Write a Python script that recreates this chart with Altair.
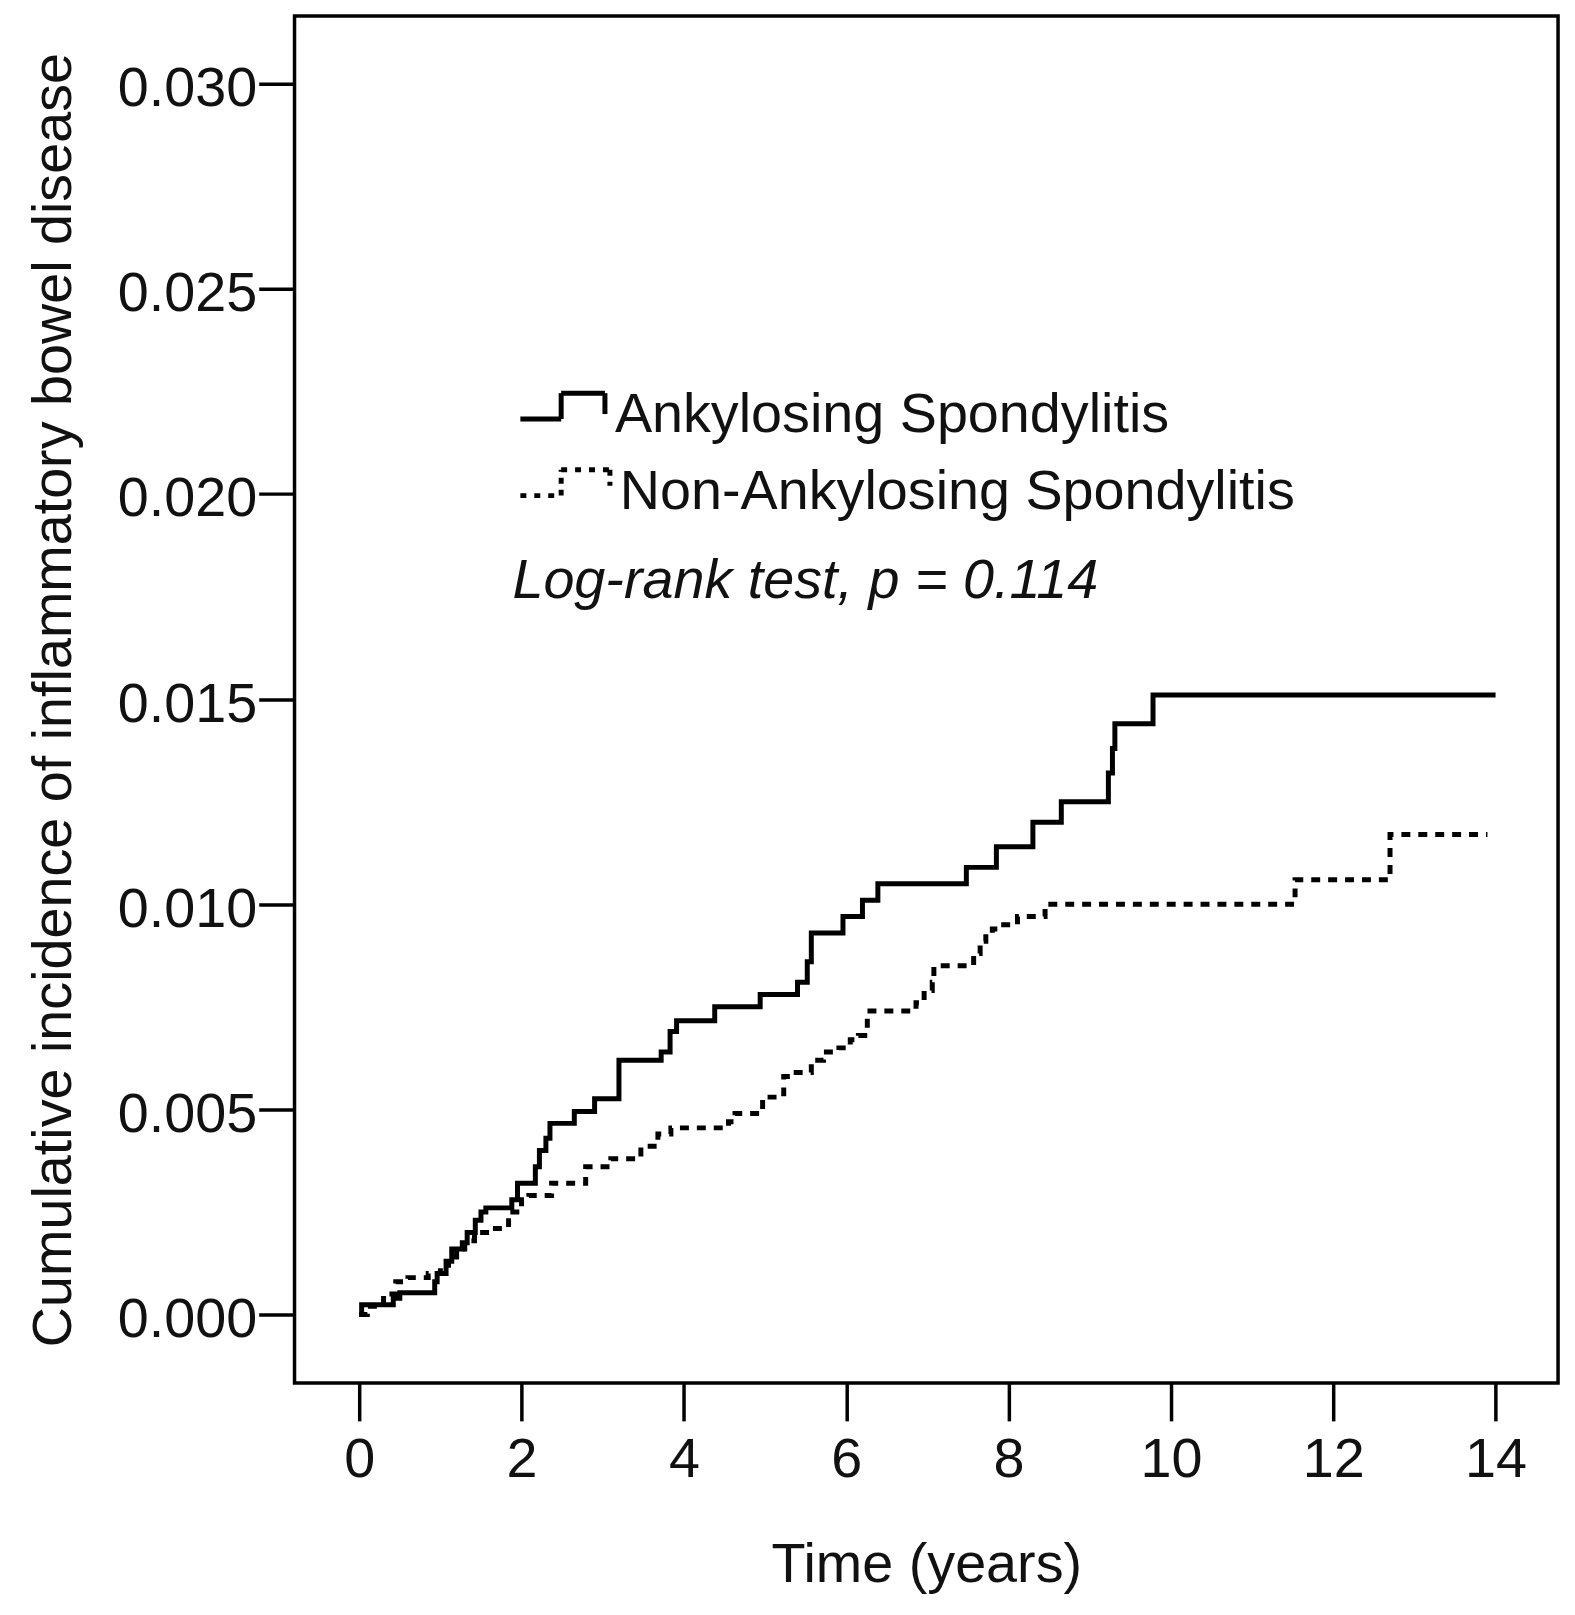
import altair as alt
import pandas as pd

# Ankylosing Spondylitis (solid) - step points: time (years), cumulative incidence
as_time = [0.0, 0.03, 0.42, 0.50, 0.93, 0.96, 1.07, 1.14, 1.27, 1.33, 1.43, 1.50, 1.56,
           1.88, 1.95, 2.17, 2.22, 2.30, 2.35, 2.65, 2.90, 3.20, 3.72, 3.83, 3.91, 4.38,
           4.94, 5.40, 5.52, 5.57, 5.96, 6.20, 6.39, 7.48, 7.85, 8.30, 8.65, 9.23,
           9.28, 9.31, 9.78, 14.0]
as_inc = [0.0000, 0.00024, 0.0004, 0.00053, 0.0008, 0.0010, 0.0013, 0.0016, 0.00175,
          0.0020, 0.0023, 0.0025, 0.0026, 0.0028, 0.0032, 0.0036, 0.0040, 0.0043,
          0.00466, 0.00495, 0.00526, 0.0062, 0.0064, 0.0069, 0.00716, 0.0075,
          0.0078, 0.0081, 0.0086, 0.0093, 0.0097, 0.0101, 0.0105, 0.0109, 0.0114,
          0.0120, 0.0125, 0.0132, 0.0138, 0.0144, 0.0151, 0.0151]

# Non-Ankylosing Spondylitis (dashed)
non_time = [0.0, 0.10, 0.30, 0.45, 0.60, 0.85, 1.00, 1.10, 1.20, 1.30, 1.42, 1.62,
            1.84, 2.00, 2.09, 2.37, 2.79, 3.10, 3.47, 3.68, 3.84, 4.55, 4.63, 4.97,
            5.23, 5.35, 5.57, 5.72, 5.91, 6.05, 6.15, 6.26, 6.86, 6.96, 7.06, 7.08,
            7.57, 7.65, 7.72, 7.80, 7.94, 8.11, 8.45, 11.53, 12.70, 13.90]
non_inc = [0.0000, 0.0002, 0.0005, 0.0008, 0.0009, 0.0010, 0.0012, 0.0014, 0.0016,
           0.0018, 0.0020, 0.0021, 0.0025, 0.0028, 0.0029, 0.0032, 0.0036, 0.0038,
           0.0041, 0.0044, 0.00455, 0.0047, 0.0049, 0.0053, 0.0058, 0.0059, 0.0062,
           0.0064, 0.0065, 0.0067, 0.0068, 0.0074, 0.0076, 0.0079, 0.0081, 0.0085,
           0.0088, 0.0091, 0.0093, 0.0094, 0.0095, 0.0097, 0.0100, 0.0106, 0.0117,
           0.0117]

x_ticks = [0, 2, 4, 6, 8, 10, 12, 14]
y_ticks = [0.000, 0.005, 0.010, 0.015, 0.020, 0.025, 0.030]

legend_labels = ["Ankylosing Spondylitis", "Non-Ankylosing Spondylitis"]
stat_text = "Log-rank test, p = 0.114"
x_title = "Time (years)"
y_title = "Cumulative incidence of inflammatory bowel disease"

FONT = "Liberation Sans"
FS = 56

df_as = pd.DataFrame({"t": as_time, "v": as_inc})
df_non = pd.DataFrame({"t": non_time, "v": non_inc})

xs = alt.Scale(domain=[-0.797, 14.77], nice=False, zero=False)
ys = alt.Scale(domain=[-0.00167, 0.03165], nice=False, zero=False)

x_axis = alt.Axis(values=x_ticks, format="d", title=x_title, grid=False, domain=False,
                  tickSize=38, tickWidth=3.5, tickColor="black", labelPadding=12,
                  labelFont=FONT, labelFontSize=FS, labelColor="#111",
                  titleFont=FONT, titleFontSize=FS, titleFontWeight="normal",
                  titleColor="#111", titlePadding=50)
y_axis = alt.Axis(values=y_ticks, format=".3f", title=y_title, grid=False, domain=False,
                  tickSize=36, tickWidth=3.5, tickColor="black", labelPadding=2,
                  labelOffset=5,
                  labelFont=FONT, labelFontSize=FS, labelColor="#111",
                  titleFont=FONT, titleFontSize=FS, titleFontWeight="normal",
                  titleColor="#111", titlePadding=35)

solid = alt.Chart(df_as).mark_line(interpolate="step-after", color="black",
                                   strokeWidth=5).encode(
    x=alt.X("t:Q", scale=xs, axis=x_axis),
    y=alt.Y("v:Q", scale=ys, axis=y_axis),
)
dashed = alt.Chart(df_non).mark_line(interpolate="step-after", color="black",
                                     strokeWidth=5, strokeDash=[9, 8]).encode(
    x=alt.X("t:Q", scale=xs),
    y=alt.Y("v:Q", scale=ys),
)

# legend symbols (pixel positions inside the plot area)
def seg(x1, y1, x2, y2, dash=None):
    kw = dict(color="black", strokeWidth=5)
    if dash:
        kw["strokeDash"] = dash
    return alt.Chart(pd.DataFrame({"a": [0]})).mark_rule(**kw).encode(
        x=alt.value(x1), x2=alt.value(x2), y=alt.value(y1), y2=alt.value(y2))

sym = [
    seg(227, 405, 268, 405), seg(268, 405, 268, 379), seg(268, 379, 312, 379),
    seg(312, 379, 312, 400),
    seg(227, 482, 268, 482, [6, 8]), seg(268, 482, 268, 456, [6, 6]),
    seg(268, 456, 317, 456, [6, 8]), seg(317, 456, 317, 472, [6, 6]),
]

def txt(s, x, y, style="normal"):
    return alt.Chart(pd.DataFrame({"a": [0]})).mark_text(
        text=s, align="left", baseline="alphabetic", font=FONT, fontSize=FS,
        fontStyle=style, color="#111").encode(x=alt.value(x), y=alt.value(y))

texts = [
    txt(legend_labels[0], 322, 418),
    txt(legend_labels[1], 327, 495),
    txt(stat_text, 219, 585, "italic"),
]

chart = alt.layer(solid, dashed, *sym, *texts).properties(
    width=1270, height=1374,
    background="white",
    padding={"left": 288, "top": 4, "right": 9, "bottom": 229},
    autosize=alt.AutoSizeParams(type="none"),
).configure_view(stroke="black", strokeWidth=3.5)

chart.save("out.html", embed_options={"renderer": "svg", "actions": False})
